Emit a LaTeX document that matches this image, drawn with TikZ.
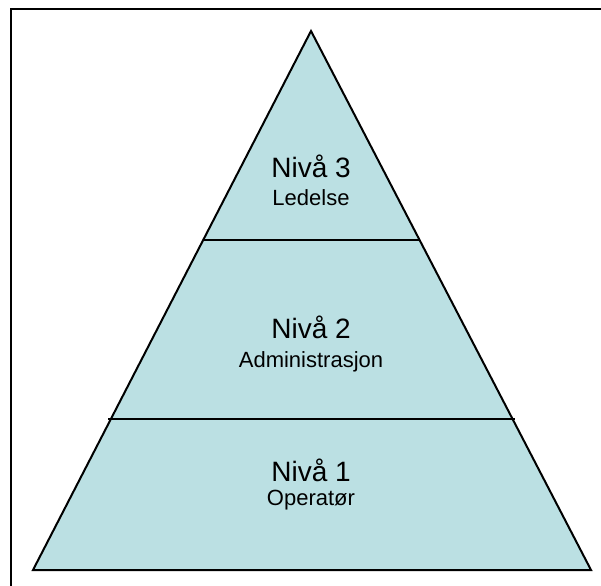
\documentclass[tikz,border=0pt]{standalone}
\usepackage{fontspec}
\setmainfont{Liberation Sans}
\definecolor{layerfill}{RGB}{187,224,227}
\begin{document}
\begin{tikzpicture}[x=1pt,y=-1pt,
  edge/.style={line width=2pt,line join=miter},
  title/.style={anchor=base,inner sep=0pt,font=\fontsize{28}{33}\selectfont},
  subtitle/.style={anchor=base,inner sep=0pt,font=\fontsize{22}{26}\selectfont}]
  \useasboundingbox (0,0) rectangle (601,585);
  % outer frame (open towards right and bottom)
  \draw[line width=2pt] (10.5,590) -- (10.5,9.5) -- (610,9.5);
  % pyramid
  \coordinate (apex) at (311,31);
  \coordinate (bl) at (33,570);
  \coordinate (br) at (591,570);
  \fill[layerfill] (apex) -- (br) -- (bl) -- cycle;
  % level dividers
  \coordinate (d1l) at (204,240);
  \coordinate (d1r) at (420,240);
  \coordinate (d2l) at (108,419);
  \coordinate (d2r) at (515,419);
  \draw[edge] (d1l) -- (d1r);
  \draw[edge] (d2l) -- (d2r);
  \draw[edge] (apex) -- (br) -- (bl) -- cycle;
  % labels
  \node[title] (n3) at (311,178) {Nivå 3};
  \node[subtitle] (s3) at (311,205) {Ledelse};
  \node[title] (n2) at (311,338) {Nivå 2};
  \node[subtitle] (s2) at (311,367) {Administrasjon};
  \node[title] (n1) at (311,481) {Nivå 1};
  \node[subtitle] (s1) at (311,505) {Operatør};
\end{tikzpicture}
\end{document}
